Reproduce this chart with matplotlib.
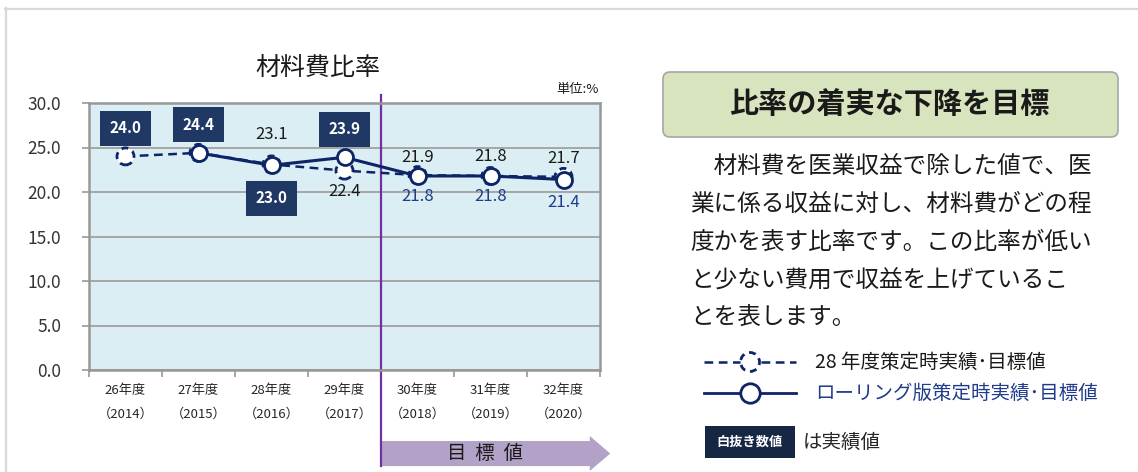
import matplotlib
matplotlib.use('Agg')
import matplotlib.pyplot as plt
import matplotlib.transforms as mtransforms
from matplotlib.patches import FancyBboxPatch, Polygon, Rectangle, Circle
from matplotlib.lines import Line2D
import numpy as np

plt.rcParams['font.family'] = ['Noto Sans CJK JP', 'DejaVu Sans']

# ---------------- data ----------------
fiscal_labels = ['26年度', '27年度', '28年度', '29年度', '30年度', '31年度', '32年度']
year_labels = ['（2014）', '（2015）', '（2016）', '（2017）', '（2018）', '（2019）', '（2020）']
plan_2016 = [24.0, 24.4, 23.1, 22.4, 21.9, 21.8, 21.7]          # 28年度策定時実績・目標値 (dashed)
rolling = [np.nan, 24.4, 23.0, 23.9, 21.8, 21.8, 21.4]         # ローリング版策定時実績・目標値 (solid)
y_ticks = [0, 5, 10, 15, 20, 25, 30]

# label styling: placement / whether the value is an actual (boxed)
plan_label_pos = ['above', None, 'above', 'below', 'above', 'above', 'above']
plan_is_actual = [True, False, False, False, False, False, False]
rolling_label_pos = [None, 'above', 'below', 'above', 'below', 'below', 'below']
rolling_is_actual = [False, True, True, True, False, False, False]

LINE = '#0d2466'
BOX = '#1f3864'
BLUE_TXT = '#1f3b8a'

W, H = 1138, 472
fig = plt.figure(figsize=(W / 100, H / 100), dpi=100)
fig.patch.set_facecolor('white')

def px(x, y):
    return (x / 100.0, (H - y) / 100.0)

# ---------------- axes ----------------
ax = fig.add_axes([89 / W, 1 - 370 / H, (600 - 89) / W, (370 - 103) / H])
ax.set_facecolor('#daeef3')
x = np.arange(len(fiscal_labels))
ax.set_xlim(-0.5, len(fiscal_labels) - 0.5)
ax.set_ylim(0, 30)
ax.set_yticks(y_ticks)
ax.set_yticklabels([f'{v:.1f}' for v in y_ticks], fontsize=12.5, color='#333333')
ax.yaxis.grid(True, color='#a6a6a6', lw=1.4)
ax.set_axisbelow(True)
for s in ax.spines.values():
    s.set_color('#989898')
    s.set_linewidth(1.8)
ax.tick_params(axis='y', length=5, width=1.2, color='#989898', pad=15)
ax.set_xticks(x)
ax.set_xticklabels([f'{a}\n{b}' for a, b in zip(fiscal_labels, year_labels)],
                   fontsize=9.5, linespacing=2.1, color='#262626')
ax.set_xticks(np.arange(-0.5, len(fiscal_labels)), minor=True)
ax.tick_params(axis='x', which='major', length=0, pad=10)
ax.tick_params(axis='x', which='minor', length=5, width=1.2, color='#989898')

# vertical purple divider & target arrow
blend = mtransforms.blended_transform_factory(ax.transData, ax.transAxes)
ax.add_line(Line2D([3.5, 3.5], [1.03, -0.36], transform=blend, color='#7030a0',
                   lw=1.6, clip_on=False, zorder=2))
arrow = Polygon([(3.5, -0.266), (6.36, -0.266), (6.36, -0.247), (6.64, -0.313),
                 (6.36, -0.378), (6.36, -0.360), (3.5, -0.360)], closed=True,
                transform=blend, facecolor='#b3a2c7', edgecolor='none', clip_on=False, zorder=1)
ax.add_patch(arrow)
ax.text(4.92, -0.313, '目  標  値', transform=blend, fontsize=14, ha='center', va='center',
        color='#1a1a1a', zorder=3)

# series
ax.plot(x, plan_2016, color=LINE, lw=1.8, ls=(0, (3.5, 2.2)), zorder=4)
ax.scatter(x, plan_2016, s=150, facecolor='white', edgecolor=LINE, linewidths=2.0,
           linestyles=(0, (2.5, 1.8)), zorder=5)
ax.plot(x, rolling, color=LINE, lw=2.2, marker='o', ms=11.5, mfc='white', mec=LINE,
        mew=2.0, zorder=6)

def put_labels(values, positions, actual, plain_color, above_px, below_px):
    for i, (v, pos, act) in enumerate(zip(values, positions, actual)):
        if pos is None or np.isnan(v):
            continue
        if act:
            off = 28 if pos == 'above' else -33
            ax.annotate(f'{v:.1f}', (i, v), xytext=(0, off * 0.72), textcoords='offset points',
                        ha='center', va='center', fontsize=11, fontweight='bold', color='white',
                        bbox=dict(boxstyle='square,pad=0.62', fc=BOX, ec='none'), zorder=8)
        else:
            off = above_px[i] if pos == 'above' else -below_px[i]
            ax.annotate(f'{v:.1f}', (i, v), xytext=(0, off * 0.72), textcoords='offset points',
                        ha='center', va='center', fontsize=12, color=plain_color, zorder=8)

put_labels(plan_2016, plan_label_pos, plan_is_actual, '#1a1a1a',
           [0, 0, 30, 0, 18, 19, 18], [0, 0, 0, 21, 0, 0, 0])
put_labels(rolling, rolling_label_pos, rolling_is_actual, BLUE_TXT,
           [0] * 7, [0, 0, 0, 0, 21, 21, 23])

# titles
fig.text(318 / W, 1 - 68 / H, '材料費比率', fontsize=18, ha='center', va='center', color='#1a1a1a')
fig.text(599 / W, 1 - 89 / H, '単位:%', fontsize=9.5, ha='right', va='center', color='#1a1a1a')

# ---------------- outer frame ----------------
fr = fig.dpi_scale_trans
fig.add_artist(Line2D([5 / 100, W / 100], [(H - 8.5) / 100] * 2, transform=fr, color='#d9d9d9', lw=1.6))
fig.add_artist(Line2D([5.5 / 100] * 2, [(H - 8) / 100, 0], transform=fr, color='#d9d9d9', lw=1.6))

# ---------------- right panel ----------------
gx, gy = px(663, 137)
gbox = FancyBboxPatch((gx, gy), (1118 - 663) / 100, (137 - 72) / 100,
                      boxstyle='round,pad=0,rounding_size=0.07', transform=fr,
                      facecolor='#d7e4bd', edgecolor='#a6a6a6', lw=1.2)
fig.add_artist(gbox)
fig.text(*px(889, 104), '比率の着実な下降を目標', transform=fr, fontsize=21, fontweight='bold',
         ha='center', va='center', color='#1a1a1a')

body = ['　材料費を医業収益で除した値で、医',
        '業に係る収益に対し、材料費がどの程',
        '度かを表す比率です。この比率が低い',
        'と少ない費用で収益を上げているこ',
        'とを表します。']
for k, line in enumerate(body):
    fig.text(*px(690, 166 + 38 * k), line, transform=fr, fontsize=17, ha='left', va='center',
             color='#1a1a1a')

# legend
fig.add_artist(Line2D([7.04, 7.96], [(H - 362) / 100] * 2, transform=fr, color=LINE, lw=1.8,
                      ls=(0, (3.5, 2.2)), zorder=2))
circ = Circle(px(750, 362), 0.095, transform=fr, facecolor='white', edgecolor=LINE, lw=2.0,
              ls=(0, (2.5, 1.8)), zorder=3)
fig.add_artist(circ)
fig.text(*px(815, 362), '28 年度策定時実績･目標値', transform=fr, fontsize=14, ha='left',
         va='center', color='#1a1a1a')
fig.add_artist(Line2D([7.04, 7.96], [(H - 393) / 100] * 2, transform=fr, color=LINE, lw=2.0,
                      zorder=2))
fig.add_artist(Line2D([7.50], [(H - 393) / 100], transform=fr, marker='o', ms=14, mfc='white',
                      mec=LINE, mew=2.0, ls='none', zorder=3))
fig.text(*px(815, 393), 'ローリング版策定時実績･目標値', transform=fr, fontsize=14, ha='left',
         va='center', color=BLUE_TXT)

bx, by = px(705, 458)
fig.add_artist(Rectangle((bx, by), 0.90, 0.32, transform=fr, facecolor='#162744', edgecolor='none'))
fig.text(*px(750, 442), '白抜き数値', transform=fr, fontsize=9.5, fontweight='bold', ha='center',
         va='center', color='white')
fig.text(*px(803, 442), 'は実績値', transform=fr, fontsize=14, ha='left', va='center',
         color='#262626')

fig.savefig('out.png', dpi=100)
